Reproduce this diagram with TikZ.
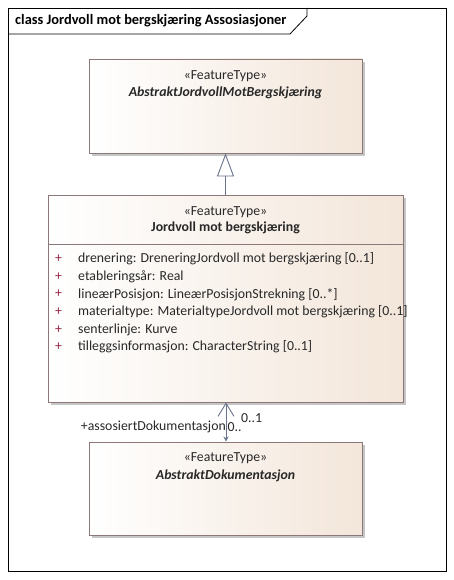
\documentclass[tikz,border=0pt]{standalone}
\usepackage{fontspec}
\setmainfont{Carlito}
\usetikzlibrary{arrows.meta,shadows}
\definecolor{boxborder}{RGB}{140,120,120}
\definecolor{boxright}{RGB}{243,230,218}
\definecolor{conn}{RGB}{105,115,140}
\definecolor{plus}{RGB}{150,40,70}
\definecolor{txt}{RGB}{40,40,40}
\tikzset{
  umlbox/.style={draw=boxborder, line width=0.9pt, left color=white, right color=boxright, shading angle=90, rectangle, inner sep=0pt,
    drop shadow={shadow xshift=3pt, shadow yshift=-3pt, fill=gray, opacity=0.45}},
  stereo/.style={font=\fontsize{13.8}{16}\selectfont, text=txt, inner sep=0pt},
  cname/.style={font=\fontsize{13.8}{16}\selectfont\bfseries\itshape, text=txt, inner sep=0pt},
  cnameup/.style={font=\fontsize{13.8}{16}\selectfont\bfseries, text=txt, inner sep=0pt},
  attr/.style={font=\fontsize{13.8}{16}\selectfont, text=txt, anchor=west, inner sep=0pt},
  plussign/.style={font=\fontsize{13.8}{16}\selectfont, text=plus, anchor=west, inner sep=0pt},
  conn/.style={draw=conn, line width=0.9pt},
  lbl/.style={font=\fontsize{13.8}{16}\selectfont, text=txt, inner sep=0pt}
}
\begin{document}
\begin{tikzpicture}[x=1pt,y=-1pt]
\useasboundingbox (0,0) rectangle (454,580);
% frame
\draw[black, line width=0.8pt] (8,8) rectangle (446,571);
\draw[black, line width=0.8pt] (8,34) -- (290,34) -- (307,16) -- (307,8);
\node[anchor=west, inner sep=0pt, font=\fontsize{14.4}{17}\selectfont\bfseries] (title) at (15,21) {class Jordvoll mot bergskjæring Assosiasjoner};

% box 1
\node[umlbox, minimum width=273pt, minimum height=94pt] (b1) at (225.5,106) {};
\node[stereo] (b1s) at (225.5,76) {«FeatureType»};
\node[cname] (b1n) at (225.5,93) {AbstraktJordvollMotBergskjæring};

% box 2
\node[umlbox, minimum width=355pt, minimum height=207pt] (b2) at (225.5,298.5) {};
\draw[draw=boxborder, line width=0.9pt] (b2.west |- 0,244) coordinate (s1) -- (b2.east |- 0,244) coordinate (s2);
\node[stereo] (b2s) at (225.5,212) {«FeatureType»};
\node[cnameup] (b2n) at (225.5,228) {Jordvoll mot bergskjæring};
\foreach \i/\t in {0/{drenering: DreneringJordvoll mot bergskjæring [0..1]},
                   1/{etableringsår: Real},
                   2/{lineærPosisjon: LineærPosisjonStrekning [0..*]},
                   3/{materialtype: MaterialtypeJordvoll mot bergskjæring [0..1]},
                   4/{senterlinje: Kurve},
                   5/{tilleggsinformasjon: CharacterString [0..1]}}{
  \node[plussign] (p\i) at (55,259+17.6*\i) {+};
  \node[attr] (a\i) at (78,259+17.6*\i) {\t};
}

% box 3
\node[umlbox, minimum width=273pt, minimum height=93pt] (b3) at (225.5,488.5) {};
\node[stereo] (b3s) at (225.5,458) {«FeatureType»};
\node[cname] (b3n) at (225.5,476) {AbstraktDokumentasjon};

% generalization
\draw[conn, -{Triangle[width=17pt,length=23pt,fill=white,line width=0.9pt]}] (b2.north -| 225.5,0) -- (b1.south -| 225.5,0);

% association
\coordinate (at) at (226,402.5);
\coordinate (ab) at (226,441.5);
\draw[conn, {Straight Barb[length=13pt,width=16pt,line width=0.9pt]}-{Stealth[length=5pt,width=5pt]}] (at) -- (ab);
\node[lbl, anchor=west] (m1) at (241,418) {0..1};
\node[lbl, anchor=east] (r1) at (226,427) {+assosiertDokumentasjon};
\node[lbl, anchor=west] (m2) at (227.5,427) {0..};
\end{tikzpicture}
\end{document}
